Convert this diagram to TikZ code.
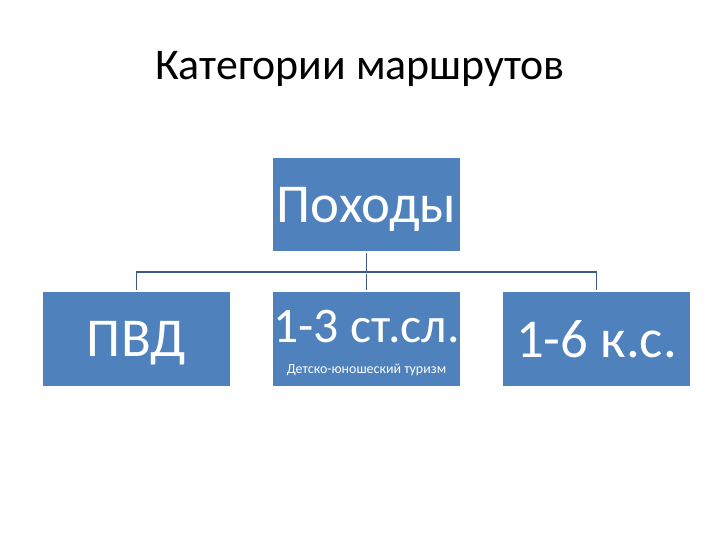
\documentclass[tikz,border=0pt]{standalone}
\usepackage{fontspec}
\setmainfont{Carlito}
\usepackage{xcolor}
\usetikzlibrary{positioning}
\definecolor{boxblue}{RGB}{79,129,189}
\definecolor{linkblue}{RGB}{60,90,135}

\tikzset{
  catbox/.style={fill=boxblue, text=white, minimum width=187bp, minimum height=93bp,
                 inner sep=0pt, text depth=0pt, align=center, font=\fontsize{55}{60}\selectfont},
  link/.style={linkblue, line width=1.6pt, shorten <=2pt, shorten >=2pt}
}

\begin{document}
\begin{tikzpicture}[x=1bp, y=-1bp]

% frame of the slide
\useasboundingbox (0,0) rectangle (720,540);

% title
\node (title) at (360,69) {\fontsize{44}{48}\selectfont Категории маршрутов};

% top box
\node[catbox] (hike) at (366.5,204.5) {Походы};

% lower row
\node[catbox] (pvd) at (136.5,339) {ПВД};
\node[catbox] (steps) at (366.5,339) {};
\node[catbox] (ks) at (596.5,339) {1-6 к.с.};

% texts of the middle box
\node[text=white, font=\fontsize{50}{54}\selectfont] (stepsmain) at (366.5,327) {1-3 ст.сл.};
\node[text=white, font=\fontsize{14}{16}\selectfont] (stepssub) at (366.5,370) {Детско-юношеский туризм};

% connectors
\coordinate (fork) at (366.5,272);
\draw[link, shorten >=0pt] (hike.south) -- (fork);
\draw[link] (fork) -- (steps.north);
\draw[link, shorten <=0pt] (fork) -| (pvd.north);
\draw[link, shorten <=0pt] (fork) -| (ks.north);

\end{tikzpicture}
\end{document}
